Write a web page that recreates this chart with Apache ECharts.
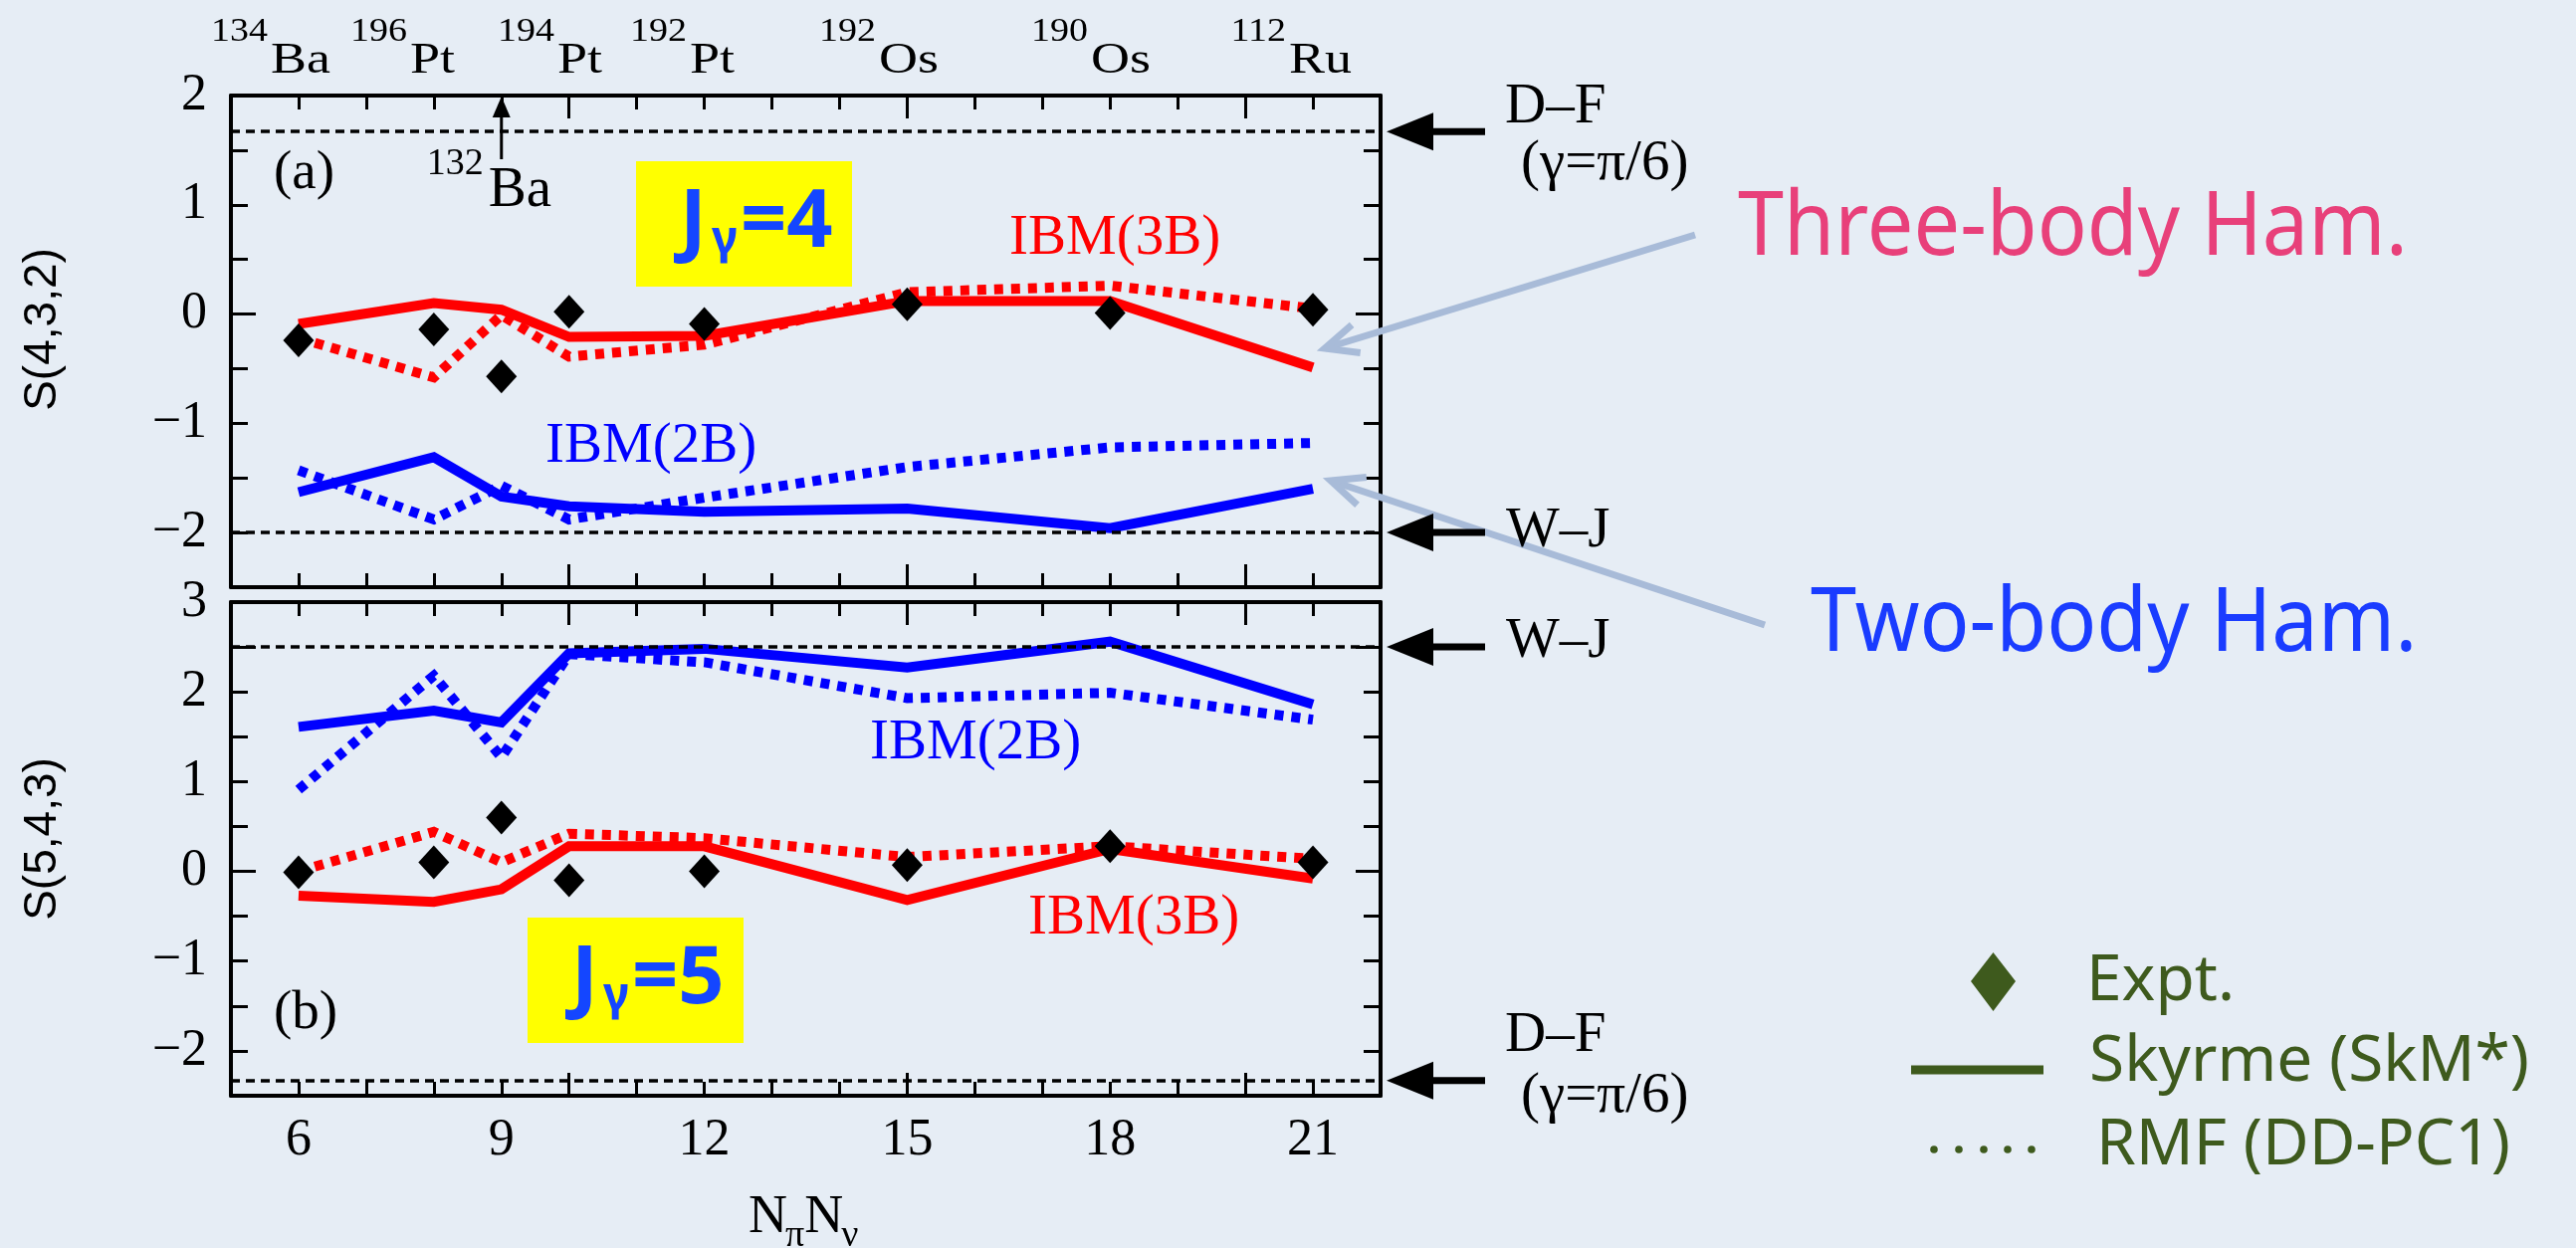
<!DOCTYPE html>
<html>
<head>
<meta charset="utf-8">
<script src="https://cdn.jsdelivr.net/npm/echarts@6/dist/echarts.min.js"></script>
<style>
  html, body { margin: 0; padding: 0; background: #e6edf5; }
  #chart { width: 2588px; height: 1254px; }
</style>
</head>
<body>
<div id="chart"></div>
<script>
// N_pi * N_nu of each nucleus
const nProduct = [6, 8, 9, 10, 12, 15, 18, 21];
const nuclei = ['134Ba', '196Pt', '132Ba', '194Pt', '192Pt', '192Os', '190Os', '112Ru'];

// (a) S(4,3,2), J_gamma = 4
const exptA   = [-0.24, -0.14, -0.57, 0.02, -0.09, 0.09, 0.01, 0.04];
const skm3bA  = [-0.09, 0.10, 0.04, -0.21, -0.20, 0.12, 0.12, -0.49];
const ddpc3bA = [-0.22, -0.58, -0.01, -0.39, -0.28, 0.20, 0.26, 0.05];
const skm2bA  = [-1.63, -1.31, -1.67, -1.76, -1.81, -1.78, -1.96, -1.60];
const ddpc2bA = [-1.43, -1.88, -1.57, -1.88, -1.68, -1.40, -1.22, -1.18];

// (b) S(5,4,3), J_gamma = 5
const exptB   = [-0.01, 0.10, 0.60, -0.10, 0.00, 0.07, 0.28, 0.10];
const skm3bB  = [-0.27, -0.34, -0.20, 0.28, 0.28, -0.32, 0.25, -0.08];
const ddpc3bB = [0.00, 0.44, 0.10, 0.42, 0.37, 0.16, 0.28, 0.14];
const skm2bB  = [1.61, 1.79, 1.66, 2.43, 2.48, 2.27, 2.56, 1.86];
const ddpc2bB = [0.91, 2.18, 1.27, 2.42, 2.33, 1.93, 1.99, 1.69];

// Limits: Davydov-Filippov (gamma = pi/6) and Wilets-Jean
const limitsA = { DF: 1.67, WJ: -2.0 };
const limitsB = { WJ: 2.5, DF: -2.33 };

const xTickLabels = [6, 9, 12, 15, 18, 21];
const xRange = [5, 22];
const yRangeA = [-2.5, 2];
const yRangeB = [-2.5, 3];

// left edges of the nucleus names along the top (132Ba is marked by an arrow)
const topNameLeft = [272, 412, null, 560, 693, 883, 1096, 1295];

const SERIF = '"Liberation Serif", "Times New Roman", serif';
const SANS = '"Liberation Sans", Arial, sans-serif';
const ROUND = '"Noto Sans", sans-serif';
const RED = '#ff0000', BLUE = '#0000ff', INK = '#000000';
const GREEN = '#3e5a1d', PALE = '#a8bbd8';

const measureCtx = document.createElement('canvas').getContext('2d');
function textWidth(str, size, family, weight) {
  measureCtx.font = (weight || 'normal') + ' ' + size + 'px ' + family;
  return measureCtx.measureText(str).width;
}
const baseK = f => (f === ROUND ? 0.388 : 0.338);

// text placed by its alphabetic baseline
function txt(str, x, base, size, family, o) {
  o = o || {};
  return {
    type: 'text', x: x, y: base, silent: true, z: 100,
    scaleX: o.sx || 1, scaleY: o.sy || 1, rotation: o.rot || 0,
    style: {
      text: str, x: 0, y: o.centered ? 0 : -baseK(family) * size,
      fill: o.color || INK, fontSize: size, fontFamily: family,
      fontWeight: o.weight || 'normal',
      align: o.align || 'left', verticalAlign: 'middle'
    }
  };
}

const pairs = arr => nProduct.map((n, i) => [n, arr[i]]);

function yFmt(v) {
  if (Math.abs(v - Math.round(v)) > 1e-9) return '';
  const r = Math.round(v);
  return r < 0 ? '\u2212' + (-r) : String(r);
}

const frame = { show: true, onZero: false, lineStyle: { color: INK, width: 4 } };
const noFrame = { show: false, onZero: false };
const tick = len => ({ show: true, inside: true, length: len, lineStyle: { color: INK, width: 3 } });

function xAxesFor(grid, withLabels) {
  const common = { gridIndex: grid, type: 'value', min: xRange[0], max: xRange[1], splitLine: { show: false } };
  return [
    Object.assign({}, common, { position: 'bottom', interval: 1, axisLine: frame, axisTick: tick(14),
      axisLabel: { show: withLabels, margin: 19, fontSize: 52, fontFamily: SERIF, color: INK,
        formatter: v => (xTickLabels.indexOf(v) >= 0 ? String(v) : '') } }),
    Object.assign({}, common, { position: 'top', interval: 1, axisLine: frame, axisTick: tick(14), axisLabel: { show: false } }),
    Object.assign({}, common, { position: 'bottom', interval: 5, axisLine: noFrame, axisTick: tick(23), axisLabel: { show: false } }),
    Object.assign({}, common, { position: 'top', interval: 5, axisLine: noFrame, axisTick: tick(23), axisLabel: { show: false } })
  ];
}

function yAxesFor(grid, range) {
  const common = { gridIndex: grid, type: 'value', min: range[0], max: range[1], splitLine: { show: false } };
  return [
    Object.assign({}, common, { position: 'left', interval: 0.5, axisLine: frame, axisTick: tick(17),
      axisLabel: { margin: 24, fontSize: 52, fontFamily: SERIF, color: INK, formatter: yFmt } }),
    Object.assign({}, common, { position: 'right', interval: 0.5, axisLine: frame, axisTick: tick(17), axisLabel: { show: false } }),
    Object.assign({}, common, { position: 'left', interval: 2.5, axisLine: noFrame, axisTick: tick(25), axisLabel: { show: false } }),
    Object.assign({}, common, { position: 'right', interval: 2.5, axisLine: noFrame, axisTick: tick(25), axisLabel: { show: false } })
  ];
}

function curve(ax, values, color, dotted) {
  return {
    type: 'line', xAxisIndex: ax, yAxisIndex: ax, data: pairs(values),
    symbol: 'none', silent: true, z: 3,
    lineStyle: { color: color, width: 10, type: dotted ? [9, 8] : 'solid', cap: 'butt', join: 'miter', opacity: 1 }
  };
}

function expt(ax, values, limits) {
  return {
    type: 'scatter', xAxisIndex: ax, yAxisIndex: ax, data: pairs(values),
    symbol: 'diamond', symbolSize: [31, 34], itemStyle: { color: INK, opacity: 1 }, silent: true, z: 6,
    markLine: {
      silent: true, symbol: ['none', 'none'], label: { show: false },
      lineStyle: { color: INK, width: 3.5, type: [9, 6], opacity: 1 },
      data: [{ yAxis: limits.DF }, { yAxis: limits.WJ }]
    }
  };
}

const chart = echarts.init(document.getElementById('chart'), null, { renderer: 'canvas' });

chart.setOption({
  animation: false,
  backgroundColor: 'transparent',
  grid: [
    { left: 232, top: 96, width: 1155, height: 494 },
    { left: 232, top: 605, width: 1155, height: 496 }
  ],
  xAxis: xAxesFor(0, false).concat(xAxesFor(1, true)),
  yAxis: yAxesFor(0, yRangeA).concat(yAxesFor(1, yRangeB)),
  series: [
    curve(0, skm3bA, RED, false), curve(0, ddpc3bA, RED, true),
    curve(0, skm2bA, BLUE, false), curve(0, ddpc2bA, BLUE, true),
    expt(0, exptA, limitsA),
    curve(4, skm3bB, RED, false), curve(4, ddpc3bB, RED, true),
    curve(4, skm2bB, BLUE, false), curve(4, ddpc2bB, BLUE, true),
    expt(4, exptB, limitsB)
  ]
});

// ---------- annotations ----------
const xPix = n => chart.convertToPixel({ xAxisIndex: 0 }, n);
const yPixA = v => chart.convertToPixel({ yAxisIndex: 0 }, v);
const yPixB = v => chart.convertToPixel({ yAxisIndex: 4 }, v);
const els = [];

// nucleus names on the top edge
nuclei.forEach((name, i) => {
  const left = topNameLeft[i];
  if (left == null) return;
  const mass = name.match(/^\d+/)[0];
  const el = name.slice(mass.length);
  els.push(txt(mass, left - 3, 44, 38, SERIF, { align: 'right', sy: 0.9 }));
  els.push(txt(el, left, 76, 54, SERIF, { sy: 0.81 }));
});

// 132Ba marked by an arrow at N = 9
(function () {
  const i = nuclei.indexOf('132Ba');
  const x = xPix(nProduct[i]);
  const top = yPixA(yRangeA[1]);
  els.push({ type: 'line', silent: true, z: 90, shape: { x1: x, y1: 160, x2: x, y2: top + 18 }, style: { stroke: INK, lineWidth: 3 } });
  els.push({ type: 'polygon', silent: true, z: 90, shape: { points: [[x, top + 1], [x - 9, top + 22], [x + 9, top + 22]] }, style: { fill: INK } });
  els.push(txt('132', x - 18, 178, 38, SERIF, { align: 'right' }));
  els.push(txt('Ba', x - 13, 211, 57, SERIF));
})();

// panel tags
els.push(txt('(a)', 275, 193, 55, SERIF));
els.push(txt('(b)', 275, 1037, 55, SERIF));

// curve labels
els.push(txt('IBM(3B)', 1014, 259, 57, SERIF, { color: RED }));
els.push(txt('IBM(2B)', 548, 468, 57, SERIF, { color: BLUE }));
els.push(txt('IBM(2B)', 874, 766, 57, SERIF, { color: BLUE }));
els.push(txt('IBM(3B)', 1033, 942, 57, SERIF, { color: RED }));

// J_gamma boxes
function jBox(x0, y0, spin) {
  const w = 217, h = 126;
  els.push({ type: 'rect', silent: true, z: 80, shape: { x: x0, y: y0, width: w, height: h }, style: { fill: '#ffff00' } });
  const base = y0 + 94;
  const c = '#1446ff';
  els.push(txt('J', x0 + 44, base, 81, ROUND, { color: c, weight: 'bold' }));
  els.push(txt('\u03b3', x0 + 76, base + 4, 46, ROUND, { color: c, weight: 'bold' }));
  els.push(txt('=' + spin, x0 + 105, base, 81, ROUND, { color: c, weight: 'bold' }));
}
jBox(639, 162, 4);
jBox(530, 922, 5);

// axis titles
els.push(txt('S(4,3,2)', 43, yPixA((yRangeA[0] + yRangeA[1]) / 2) - 12, 46, SANS, { rot: Math.PI / 2, align: 'center', centered: true }));
els.push(txt('S(5,4,3)', 43, yPixB((yRangeB[0] + yRangeB[1]) / 2) - 10, 46, SANS, { rot: Math.PI / 2, align: 'center', centered: true }));
(function () {
  let x = 752;
  const base = 1242;
  [['N', 54, 0], ['\u03c0', 38, 13], ['N', 54, 0], ['\u03bd', 38, 13]].forEach(r => {
    els.push(txt(r[0], x, base + r[2], r[1], SERIF));
    x += textWidth(r[0], r[1], SERIF) - (r[2] ? 0 : 2);
  });
})();

// limit markers on the right
function limitArrow(y) {
  els.push({ type: 'line', silent: true, z: 90, shape: { x1: 1436, y1: y, x2: 1492, y2: y }, style: { stroke: INK, lineWidth: 7 } });
  els.push({ type: 'polygon', silent: true, z: 90, shape: { points: [[1393, y], [1440, y - 19], [1440, y + 19]] }, style: { fill: INK } });
}
limitArrow(yPixA(limitsA.DF));
limitArrow(yPixA(limitsA.WJ));
limitArrow(yPixB(limitsB.WJ));
limitArrow(yPixB(limitsB.DF));
els.push(txt('D\u2013F', 1512, 127, 57, SERIF));
els.push(txt('(\u03b3=\u03c0/6)', 1528, 184, 57, SERIF));
els.push(txt('W\u2013J', 1513, 553, 57, SERIF));
els.push(txt('W\u2013J', 1513, 664, 57, SERIF));
els.push(txt('D\u2013F', 1512, 1060, 57, SERIF));
els.push(txt('(\u03b3=\u03c0/6)', 1528, 1121, 57, SERIF));

// pointers to the Hamiltonian labels
function paleArrow(x1, y1, x2, y2) {
  const ang = Math.atan2(y1 - y2, x1 - x2);
  const L = 36, s = 0.42;
  const a = [x2 + L * Math.cos(ang + s), y2 + L * Math.sin(ang + s)];
  const b = [x2 + L * Math.cos(ang - s), y2 + L * Math.sin(ang - s)];
  els.push({ type: 'line', silent: true, z: 70, shape: { x1: x1, y1: y1, x2: x2, y2: y2 }, style: { stroke: PALE, lineWidth: 7 } });
  els.push({ type: 'polyline', silent: true, z: 70, shape: { points: [a, [x2, y2], b] }, style: { stroke: PALE, lineWidth: 7, fill: null } });
}
paleArrow(1703, 236, 1331, 350);
paleArrow(1773, 628, 1337, 483);
els.push(txt('Three-body Ham.', 1746, 265, 90, ROUND, { color: '#e8407a', sx: 0.92 }));
els.push(txt('Two-body Ham.', 1819, 663, 90, ROUND, { color: '#1a3cff', sx: 0.92 }));

// key
els.push({ type: 'polygon', silent: true, z: 90, shape: { points: [[2002.5, 957], [2025, 986], [2002.5, 1016], [1980, 986]] }, style: { fill: GREEN } });
els.push({ type: 'line', silent: true, z: 90, shape: { x1: 1920, y1: 1075, x2: 2053, y2: 1075 }, style: { stroke: GREEN, lineWidth: 9 } });
[1943, 1968, 1993, 2017, 2041].forEach(cx => {
  els.push({ type: 'circle', silent: true, z: 90, shape: { cx: cx, cy: 1155, r: 3.8 }, style: { fill: GREEN } });
});
els.push(txt('Expt.', 2096, 1012, 64, ROUND, { color: GREEN }));
els.push(txt('Skyrme (SkM*)', 2099, 1093, 64, ROUND, { color: GREEN }));
els.push(txt('RMF (DD-PC1)', 2106, 1177, 64, ROUND, { color: GREEN }));

chart.setOption({ graphic: { elements: els } });
</script>
</body>
</html>
